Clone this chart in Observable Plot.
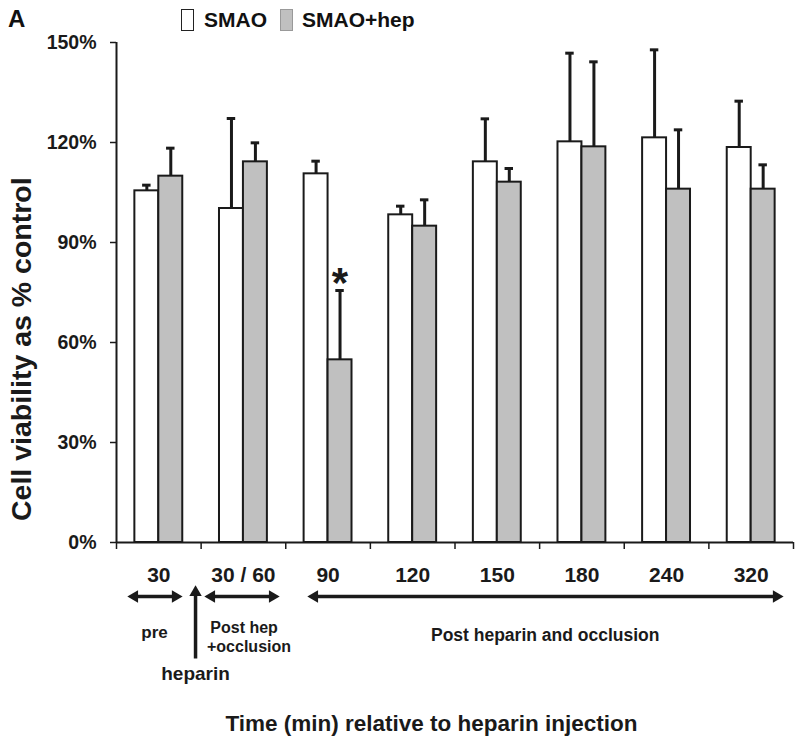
<!DOCTYPE html>
<html>
<head>
<meta charset="utf-8">
<script src="https://cdn.jsdelivr.net/npm/d3@7"></script>
<script src="https://cdn.jsdelivr.net/npm/@observablehq/plot@0.6"></script>
<style>
  body { margin: 0; background: #fff; font-family: "Liberation Sans", Arial, sans-serif; }
  #wrap { position: relative; width: 800px; height: 742px; }
  .lg { position: absolute; font-weight: bold; font-size: 21px; line-height: 24px; color: #111; white-space: nowrap; }
  .sw { position: absolute; width: 11px; height: 20px; }
</style>
</head>
<body>
<div id="wrap">
  <div class="lg" style="left:8px;top:6px;font-size:24px;line-height:26px;">A</div>
  <div class="sw" style="left:181px;top:9px;background:#fff;border:1.5px solid #222;"></div>
  <div class="lg" style="left:204px;top:8px;">SMAO</div>
  <div class="sw" style="left:280px;top:9px;background:#c0c0c0;border:1.5px solid #999;"></div>
  <div class="lg" style="left:302px;top:8px;">SMAO+hep</div>
</div>
<script>
// ---- data ----
const cats = ["30", "30 / 60", "90", "120", "150", "180", "240", "320"];
const smao = [105.5, 100.2, 110.6, 98.3, 114.2, 120.2, 121.4, 118.5];
const smaoErr = [1.7, 27.0, 3.8, 2.6, 12.9, 26.6, 26.4, 13.9];
const hep = [109.9, 114.2, 54.8, 94.9, 108.1, 118.7, 106.0, 106.0];
const hepErr = [8.4, 5.7, 20.8, 7.9, 4.1, 25.5, 17.8, 7.3];
const yTicks = [0, 30, 60, 90, 120, 150];
const sigIndex = [2]; // asterisk on SMAO+hep at 90 min

// annotation content (positions in data units of the chart scales)
const arrowsH = [
  {x1: 0.165, x2: 0.744, y: -16.2},
  {x1: 1.075, x2: 1.891, y: -16.2},
  {x1: 2.292, x2: 7.846, y: -16.2}
];
const arrowUp = [{x: 0.934, y1: -34.8, y2: -13.8}];
const notes = [
  {x: 0.449, y: -27.0, t: "pre", s: 17},
  {x: 1.508, y: -25.5, t: "Post hep", s: 16},
  {x: 1.566, y: -31.2, t: "+occlusion", s: 16},
  {x: 0.934, y: -39.3, t: "heparin", s: 19},
  {x: 5.066, y: -27.9, t: "Post heparin and occlusion", s: 17.5}
];

const bw = 0.283;   // bar width in band units
const cap = 0.05;   // error cap half width
const idx = d3.range(cats.length);
const ink = "#1a1a1a";

const plot = Plot.plot({
  width: 800,
  height: 742,
  marginTop: 42,
  marginBottom: 200,
  marginLeft: 116,
  marginRight: 7,
  style: {fontFamily: "'Liberation Sans', Arial, sans-serif", fontWeight: "bold", color: ink, background: "transparent"},
  x: {domain: [0, cats.length], axis: null},
  y: {domain: [0, 150], axis: null},
  marks: [
    // bars
    Plot.rectY(idx, {x1: i => i + 0.5 - bw, x2: i => i + 0.5, y1: 0, y2: i => smao[i], fill: "white", stroke: ink, strokeWidth: 2}),
    Plot.rectY(idx, {x1: i => i + 0.5, x2: i => i + 0.5 + bw, y1: 0, y2: i => hep[i], fill: "#c0c0c0", stroke: ink, strokeWidth: 2}),
    // error bars
    Plot.ruleX(idx, {x: i => i + 0.5 - bw / 2, y1: i => smao[i], y2: i => smao[i] + smaoErr[i], stroke: ink, strokeWidth: 3}),
    Plot.ruleY(idx, {y: i => smao[i] + smaoErr[i], x1: i => i + 0.5 - bw / 2 - cap, x2: i => i + 0.5 - bw / 2 + cap, stroke: ink, strokeWidth: 3}),
    Plot.ruleX(idx, {x: i => i + 0.5 + bw / 2, y1: i => hep[i], y2: i => hep[i] + hepErr[i], stroke: ink, strokeWidth: 3}),
    Plot.ruleY(idx, {y: i => hep[i] + hepErr[i], x1: i => i + 0.5 + bw / 2 - cap, x2: i => i + 0.5 + bw / 2 + cap, stroke: ink, strokeWidth: 3}),
    // significance star
    Plot.text(sigIndex, {x: i => i + 0.5 + bw / 2, y: i => hep[i] + hepErr[i], text: () => "*", fontSize: 42, lineAnchor: "middle", dy: -7, fill: ink}),
    // axes
    Plot.ruleX([0], {stroke: ink, strokeWidth: 2}),
    Plot.ruleY([0], {stroke: ink, strokeWidth: 2}),
    Plot.axisY({ticks: yTicks, tickFormat: d => d + "%", tickSize: 6, tickPadding: 14, fontSize: 19.5, label: null, stroke: ink, strokeWidth: 1.5}),
    Plot.axisX({ticks: d3.range(cats.length + 1), tickFormat: () => "", tickSize: 7, label: null, stroke: ink, strokeWidth: 1.5}),
    Plot.axisX({ticks: idx.map(i => i + 0.5), tickFormat: v => cats[Math.floor(v)], tickSize: 0, tickPadding: 25, fontSize: 21, label: null}),
    // y label
    Plot.text(["Cell viability as % control"], {x: -1.123, y: 58, rotate: -90, fontSize: 28.5, fill: ink, text: d => d}),
    // x title
    Plot.text(["Time (min) relative to heparin injection"], {x: 3.722, y: -54.3, fontSize: 22.5, fill: ink, text: d => d}),
    // annotation arrows
    Plot.link(arrowsH, {x1: d => d.x1 + 0.06, x2: d => d.x2 - 0.06, y1: "y", y2: "y", stroke: ink, strokeWidth: 3.5}),
    Plot.dot(arrowsH, {x: "x1", y: "y", symbol: "triangle", r: 4.6, rotate: -90, dx: 4, fill: ink, stroke: "none"}),
    Plot.dot(arrowsH, {x: "x2", y: "y", symbol: "triangle", r: 4.6, rotate: 90, dx: -4, fill: ink, stroke: "none"}),
    Plot.link(arrowUp, {x1: "x", x2: "x", y1: "y1", y2: d => d.y2 - 1.5, stroke: ink, strokeWidth: 3.5}),
    Plot.dot(arrowUp, {x: "x", y: "y2", symbol: "triangle", r: 4.6, rotate: 0, dy: 4, fill: ink, stroke: "none"}),
    Plot.text(notes, {x: "x", y: "y", text: "t", fontSize: d => d.s, fill: ink, lineAnchor: "middle"})
  ]
});
document.getElementById("wrap").appendChild(plot);
</script>
</body>
</html>
